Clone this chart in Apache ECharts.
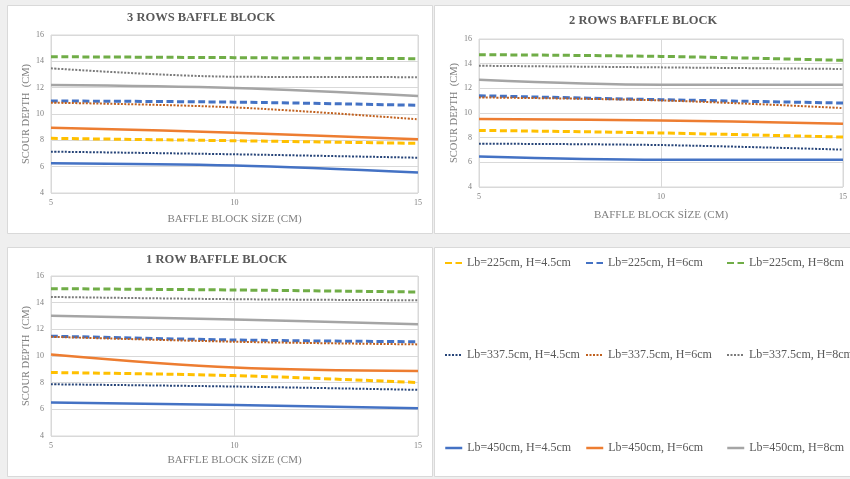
<!DOCTYPE html>
<html>
<head>
<meta charset="utf-8">
<script src="https://cdn.jsdelivr.net/npm/echarts@6/dist/echarts.min.js"></script>
<style>
  html, body { margin: 0; padding: 0; background: #efefef; }
  #chart { width: 850px; height: 479px; }
</style>
</head>
<body>
<div id="chart"></div>
<script>
// Baffle block size (cm) on the x axis
const blockSizes = [5, 10, 15];

// Series names (stilling basin length Lb, flow depth H)
const seriesNames = [
  'Lb=225cm, H=4.5cm', 'Lb=225cm, H=6cm', 'Lb=225cm, H=8cm',
  'Lb=337.5cm, H=4.5cm', 'Lb=337.5cm, H=6cm', 'Lb=337.5cm, H=8cm',
  'Lb=450cm, H=4.5cm', 'Lb=450cm, H=6cm', 'Lb=450cm, H=8cm'
];

// Scour depth (cm), one row per series, for 3 / 2 / 1 rows of baffle blocks
const depth3Rows = [
  [8.15, 7.97, 7.77], [10.99, 10.90, 10.66], [14.35, 14.28, 14.20],
  [7.14, 6.94, 6.68], [10.86, 10.50, 9.60], [13.47, 12.83, 12.80],
  [6.26, 6.08, 5.55], [8.96, 8.58, 8.08], [12.20, 11.97, 11.37]
];
const depth2Rows = [
  [8.59, 8.38, 8.05], [11.40, 11.08, 10.81], [14.73, 14.59, 14.27],
  [7.51, 7.40, 7.03], [11.26, 11.02, 10.40], [13.83, 13.70, 13.57],
  [6.48, 6.21, 6.21], [9.51, 9.40, 9.13], [12.70, 12.30, 12.30]
];
const depth1Row = [
  [8.76, 8.53, 8.01], [11.49, 11.20, 11.07], [15.05, 14.95, 14.80],
  [7.88, 7.71, 7.46], [11.44, 11.07, 10.87], [14.43, 14.26, 14.18],
  [6.52, 6.32, 6.09], [10.12, 9.13, 8.88], [13.01, 12.74, 12.39]
];

const panelTitles = ['3 ROWS BAFFLE BLOCK', '2 ROWS BAFFLE BLOCK', '1 ROW BAFFLE BLOCK'];
const xAxisTitle = 'BAFFLE BLOCK SİZE (CM)';
const yAxisTitle = 'SCOUR DEPTH  (CM)';

// Styling per series
const seriesColors = ['#FFC000', '#4472C4', '#70AD47', '#264478', '#C0601E', '#7a7a7a', '#4472C4', '#ED7D31', '#A5A5A5'];
const seriesDash = [[7, 3.5], [7, 3.5], [7, 3.5], [2, 1.5], [2, 1.5], [2, 1.5], 'solid', 'solid', 'solid'];
const seriesWidth = [3, 3, 3, 2, 2, 2, 2.5, 2.5, 2.5];

const serif = '"Liberation Serif", "Times New Roman", serif';
const chart = echarts.init(document.getElementById('chart'));

const panelData = [depth3Rows, depth2Rows, depth1Row];
const grids = [
  { left: 51, top: 35, width: 367, height: 158 },
  { left: 479, top: 39, width: 369, height: 148 },
  { left: 51, top: 276, width: 367, height: 160 }
];
const xNameGaps = [21, 23, 19];

const xAxes = [], yAxes = [], series = [];
grids.forEach((g, i) => {
  g.show = true;
  g.borderColor = '#d9d9d9';
  g.borderWidth = 1;
  g.backgroundColor = '#ffffff';
  xAxes.push({
    type: 'value', gridIndex: i, min: 5, max: 15, interval: 5,
    name: xAxisTitle, nameLocation: 'middle', nameGap: xNameGaps[i],
    nameTextStyle: { fontFamily: serif, fontSize: 11, color: '#7f7f7f' },
    axisLine: { show: false }, axisTick: { show: false },
    axisLabel: { fontFamily: serif, fontSize: 8, color: '#7f7f7f', margin: 6 },
    splitLine: { show: true, lineStyle: { color: '#d9d9d9', width: 1 } }
  });
  yAxes.push({
    type: 'value', gridIndex: i, min: 4, max: 16, interval: 2,
    name: yAxisTitle, nameLocation: 'middle', nameGap: 18, nameRotate: 90,
    nameTextStyle: { fontFamily: serif, fontSize: 10.5, color: '#7f7f7f' },
    axisLine: { show: false }, axisTick: { show: false },
    axisLabel: { fontFamily: serif, fontSize: 8, color: '#7f7f7f', margin: 7 },
    splitLine: { show: true, lineStyle: { color: '#d9d9d9', width: 1 } }
  });
  panelData[i].forEach((vals, k) => {
    series.push({
      type: 'line', name: seriesNames[k], xAxisIndex: i, yAxisIndex: i,
      data: blockSizes.map((x, j) => [x, vals[j]]),
      smooth: 0.35, symbol: 'none', color: seriesColors[k],
      lineStyle: { color: seriesColors[k], width: seriesWidth[k], type: seriesDash[k], cap: 'butt' },
      emphasis: { disabled: true }
    });
  });
});

// Legend: three rows of three entries, line sample only
const legendCols = [444, 585, 726];
const legendRows = [257, 349, 442];
const legends = seriesNames.map((name, k) => ({
  data: [name],
  left: legendCols[k % 3], top: legendRows[Math.floor(k / 3)],
  itemWidth: 17, itemHeight: 14, padding: 0,
  itemStyle: { opacity: 0 },
  lineStyle: { width: k < 6 ? 2 : 2.5 },
  textStyle: { fontFamily: serif, fontSize: 12, color: '#595959' }
}));

const titles = [
  { text: panelTitles[0], left: 127, top: 11 },
  { text: panelTitles[1], left: 569, top: 14 },
  { text: panelTitles[2], left: 146, top: 253 }
].map(t => Object.assign(t, {
  padding: 0,
  textStyle: { fontFamily: serif, fontSize: 12.5, fontWeight: 'bold', color: '#595959' }
}));

// Panel backgrounds
const panelRects = [
  [7, 5, 425, 228], [434, 5, 420, 228], [7, 247, 425, 229], [434, 247, 420, 229]
].map(r => ({
  type: 'rect', silent: true, z: -10,
  shape: { x: r[0] + 0.5, y: r[1] + 0.5, width: r[2], height: r[3] },
  style: { fill: '#ffffff', stroke: '#d9d9d9', lineWidth: 1 }
}));

chart.setOption({
  backgroundColor: '#efefef',
  animation: false,
  graphic: panelRects,
  title: titles,
  legend: legends,
  grid: grids,
  xAxis: xAxes,
  yAxis: yAxes,
  series: series
});
</script>
</body>
</html>
